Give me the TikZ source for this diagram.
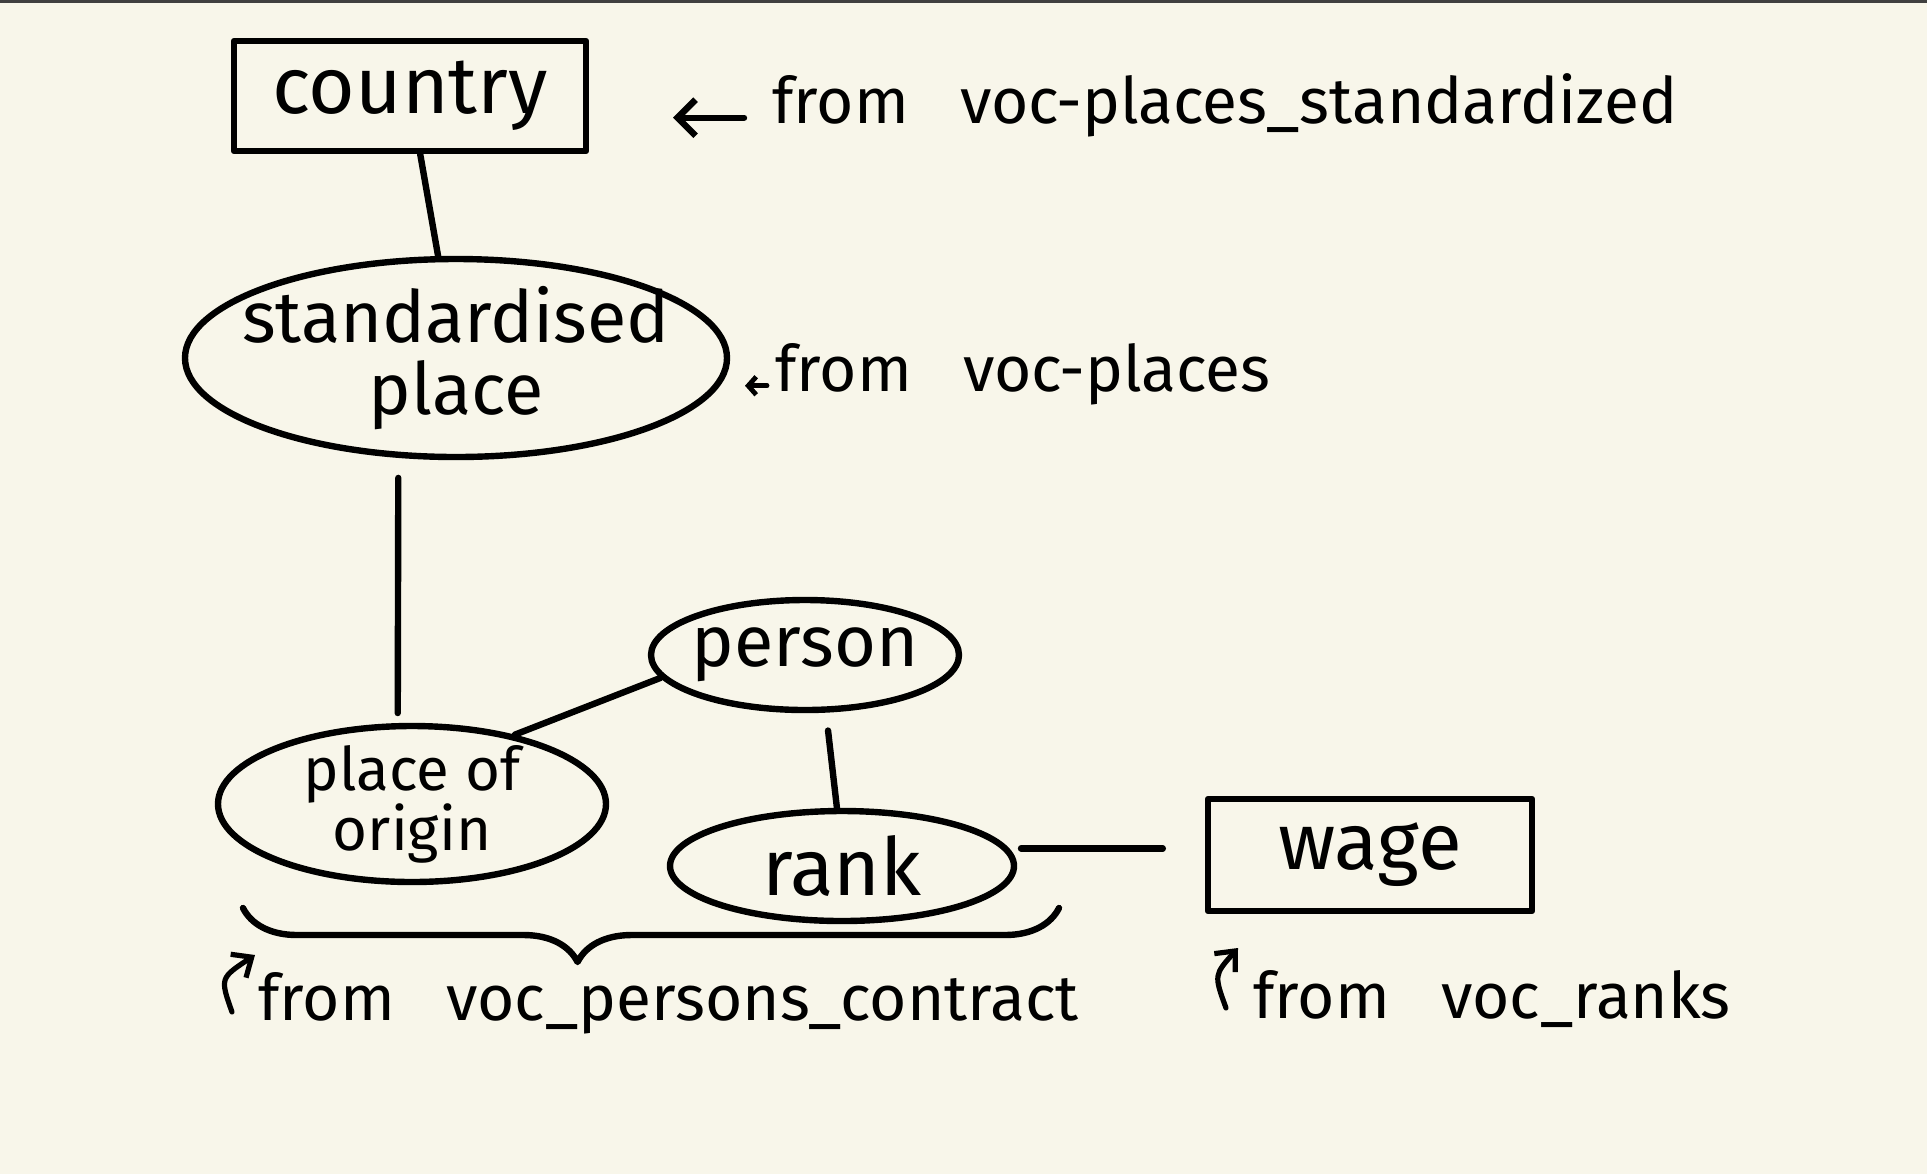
\documentclass[tikz,border=0pt]{standalone}
\usepackage{fontspec}
\setmainfont{Fira Sans}
\usetikzlibrary{shapes.geometric, arrows.meta, decorations.pathreplacing}
\definecolor{paper}{HTML}{F8F6EA}

\tikzset{
  sketch/.style={draw=black, line width=3.2pt, line cap=round, line join=round},
  entitybox/.style={sketch, rectangle, inner sep=0pt, font=\fontsize{40}{40}\selectfont},
  entityblob/.style={sketch, ellipse, inner sep=-30pt, align=center, font=\fontsize{38}{38}\selectfont},
  sourcenote/.style={anchor=base west, inner sep=0pt, font=\fontsize{32}{34}\selectfont},
  notetip/.style={sketch, -{Straight Barb[length=9pt,width=18pt]}},
  hooktip/.style={sketch, line width=2.6pt, -{Straight Barb[length=8pt,width=14pt]}},
}

\begin{document}
\begin{tikzpicture}[x=0.5pt, y=-0.5pt]
    \useasboundingbox (0,0) rectangle (1927,1174);
    \fill[paper] (0,0) rectangle (1927,1174);
    \fill[black!75] (0,0) rectangle (1927,3);

    % entities
    \node[entitybox, minimum width=176pt, minimum height=55pt] (country) at (410,96) {country};
    \node[entityblob, minimum width=271pt, minimum height=99pt, font=\fontsize{36}{36}\selectfont] (stdplace) at (456,358) {standardised\\place};
    \node[entityblob, minimum width=194pt, minimum height=78pt, font=\fontsize{30}{30}\selectfont] (origin) at (412,804) {place of\\origin};
    \node[entityblob, minimum width=154pt, minimum height=55pt, font=\fontsize{36}{36}\selectfont] (person) at (805,655) {person};
    \node[entityblob, minimum width=172pt, minimum height=55pt, font=\fontsize{40}{40}\selectfont] (rank) at (842,866) {rank};
    \node[entitybox, minimum width=162pt, minimum height=56pt] (wage) at (1370,855) {wage};

    % links
    \draw[sketch] (country) -- (stdplace);
    \draw[sketch, shorten <=10pt, shorten >=5pt] (stdplace.240) -- (origin.100);
    \draw[sketch] (person.189) -- (origin.34);
    \draw[sketch, shorten <=9pt] (person.290) -- (rank.95);
    \draw[sketch, shorten <=6pt, shorten >=21pt] (rank.6) -- (wage.west |- rank.6);

    % sources
    \node[sourcenote] (stdfrom) at (772,123) {from\hspace{.8em}voc-places\_standardized};
    \node[sourcenote] (placefrom) at (775,391) {from\hspace{.8em}voc-places};
    \node[sourcenote] (contractfrom) at (258,1020) {from\hspace{.8em}voc\_persons\_contract};
    \node[sourcenote] (rankfrom) at (1253,1018) {from\hspace{.8em}voc\_ranks};

    \draw[notetip] ([xshift=-14pt]stdfrom.mid west) -- ++(-71,0);
    \draw[notetip, line width=2.4pt, -{Straight Barb[length=4pt,width=9pt]}] ([xshift=-4pt]placefrom.mid west) -- ++(-22,0);

    \draw[sketch, decorate, decoration={brace, mirror, amplitude=27pt, aspect=0.41}] (243,908) -- (1059,908);

    \coordinate (contracthook) at (232,1012);
    \coordinate (contracttip) at (255,955);
    \coordinate (rankhook) at (1226,1008);
    \coordinate (ranktip) at (1238,948);
    \draw[hooktip] (contracthook) .. controls (220,978) .. (contracttip);
    \draw[hooktip] (rankhook) .. controls (1214,975) .. (ranktip);
\end{tikzpicture}
\end{document}
